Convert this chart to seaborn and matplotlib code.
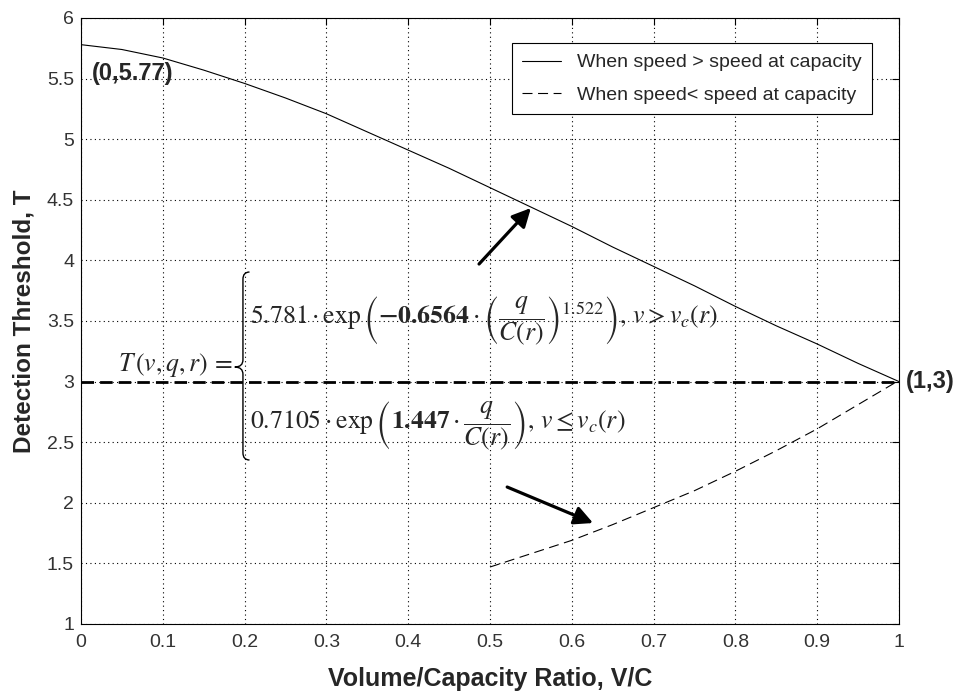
import numpy as np
import pandas as pd
import matplotlib
matplotlib.use("Agg")
import matplotlib.pyplot as plt
from matplotlib.path import Path
from matplotlib.patches import PathPatch
import seaborn as sns

# ---- data ----
vc_upper = [0.00, 0.05, 0.10, 0.15, 0.20, 0.25, 0.30, 0.35, 0.40, 0.45, 0.50,
            0.55, 0.60, 0.65, 0.70, 0.75, 0.80, 0.85, 0.90, 0.95, 1.00]
thr_upper = [5.78, 5.74, 5.67, 5.57, 5.46, 5.34, 5.21, 5.06, 4.91, 4.76, 4.60,
             4.44, 4.28, 4.11, 3.95, 3.79, 3.62, 3.46, 3.31, 3.15, 3.00]
vc_lower = [0.50, 0.55, 0.60, 0.65, 0.70, 0.75, 0.80, 0.85, 0.90, 0.95, 1.00]
thr_lower = [1.47, 1.58, 1.69, 1.82, 1.96, 2.10, 2.26, 2.43, 2.61, 2.81, 3.01]
capacity_x = [0.0, 1.0]
capacity_y = [3.0, 3.0]

label_upper = "When speed > speed at capacity"
label_lower = "When speed< speed at capacity"
xlabel = "Volume/Capacity Ratio, V/C"
ylabel = "Detection Threshold, T"
xticks = [0, 0.1, 0.2, 0.3, 0.4, 0.5, 0.6, 0.7, 0.8, 0.9, 1]
xticklabels = ["0", "0.1", "0.2", "0.3", "0.4", "0.5", "0.6", "0.7", "0.8", "0.9", "1"]
yticks = [1, 1.5, 2, 2.5, 3, 3.5, 4, 4.5, 5, 5.5, 6]
yticklabels = ["1", "1.5", "2", "2.5", "3", "3.5", "4", "4.5", "5", "5.5", "6"]

df_up = pd.DataFrame({"vc": vc_upper, "T": thr_upper})
df_lo = pd.DataFrame({"vc": vc_lower, "T": thr_lower})
df_cap = pd.DataFrame({"vc": capacity_x, "T": capacity_y})

sns.set_style("white")
plt.rcParams["font.family"] = ["Liberation Sans", "DejaVu Sans"]
plt.rcParams["mathtext.fontset"] = "stix"

fig = plt.figure(figsize=(9.64, 7.0), dpi=100)
ax = fig.add_axes([0.0840, 0.1086, 0.8486, 0.8657])

sns.lineplot(data=df_up, x="vc", y="T", ax=ax, color="black", lw=0.8,
             label=label_upper, zorder=3)
sns.lineplot(data=df_lo, x="vc", y="T", ax=ax, color="black", lw=0.8,
             linestyle=(0, (9, 5)), label=label_lower, zorder=3)
sns.lineplot(data=df_cap, x="vc", y="T", ax=ax, color="black", lw=2.0,
             linestyle=(0, (4.5, 2.2)), zorder=3)

ax.set_xlim(0, 1)
ax.set_ylim(1, 6)
ax.set_xticks(xticks)
ax.set_xticklabels(xticklabels)
ax.set_yticks(yticks)
ax.set_yticklabels(yticklabels)
ax.tick_params(direction="in", length=5, width=0.8, top=True, right=True,
               labelsize=14, labelcolor="#333333", color="black")
ax.tick_params(axis="x", pad=7)
ax.tick_params(axis="y", pad=5)
ax.grid(True, color="black", linestyle=(0, (1, 3)), lw=0.8)
for s in ax.spines.values():
    s.set_visible(True)
    s.set_color("black")
    s.set_linewidth(0.8)

ax.set_xlabel(xlabel, fontsize=18, fontweight="bold", labelpad=12)
ax.set_ylabel(ylabel, fontsize=17.5, fontweight="bold", labelpad=8)

leg = ax.legend(loc="upper right", bbox_to_anchor=(0.967, 0.9587),
                fontsize=14, frameon=True, fancybox=False, framealpha=1,
                edgecolor="black", borderaxespad=0, handlelength=2.0,
                labelspacing=0.75, borderpad=0.55)
leg.get_frame().set_linewidth(0.8)

# point annotations
ax.text(0.0134, 5.54, "(0,5.77)", fontsize=17, fontweight="bold",
        ha="left", va="center")
ax.text(1.0086, 3.0, "(1,3)", fontsize=17, fontweight="bold",
        ha="left", va="center", clip_on=False)

# arrows
ax.annotate("", xy=(0.550, 4.432), xytext=(0.4866, 3.970),
            arrowprops=dict(arrowstyle="-|>", lw=2.3, color="black",
                            mutation_scale=28, shrinkA=0, shrinkB=0))
ax.annotate("", xy=(0.626, 1.833), xytext=(0.521, 2.130),
            arrowprops=dict(arrowstyle="-|>", lw=2.3, color="black",
                            mutation_scale=28, shrinkA=0, shrinkB=0))

# equation
eq1 = (r"$5.781\cdot\exp\left(\mathbf{-0.6564}\cdot\left(\dfrac{q}{C(r)}\right)^{1.522}\right),"
       r"\,v > v_c\left(r\right)$")
eq2 = (r"$0.7105\cdot\exp\left(\mathbf{1.447}\cdot\dfrac{q}{C(r)}\right),"
       r"\,v \leq v_c\left(r\right)$")
ax.text(0.2066, 3.50, eq1, fontsize=18.5, ha="left", va="center")
ax.text(0.2066, 2.634, eq2, fontsize=18.5, ha="left", va="center")
ax.text(0.1846, 3.14, r"$T\,\left(v,q,r\right)\,=$", fontsize=18.5,
        ha="right", va="center")

# curly brace (decoration)
xs, xt, xe = 0.198, 0.188, 0.206
yt, ym, yb = 3.904, 3.12, 2.353
verts = [(xe, yt), (xs, yt), (xs, yt - 0.06),
         (xs, ym + 0.06),
         (xs, ym), (xt, ym),
         (xs, ym), (xs, ym - 0.06),
         (xs, yb + 0.06),
         (xs, yb), (xe, yb)]
codes = [Path.MOVETO, Path.CURVE3, Path.CURVE3,
         Path.LINETO,
         Path.CURVE3, Path.CURVE3,
         Path.CURVE3, Path.CURVE3,
         Path.LINETO,
         Path.CURVE3, Path.CURVE3]
ax.add_patch(PathPatch(Path(verts, codes), fill=False, lw=1.0, color="black",
                       zorder=4))

fig.savefig("out.png", dpi=100)
